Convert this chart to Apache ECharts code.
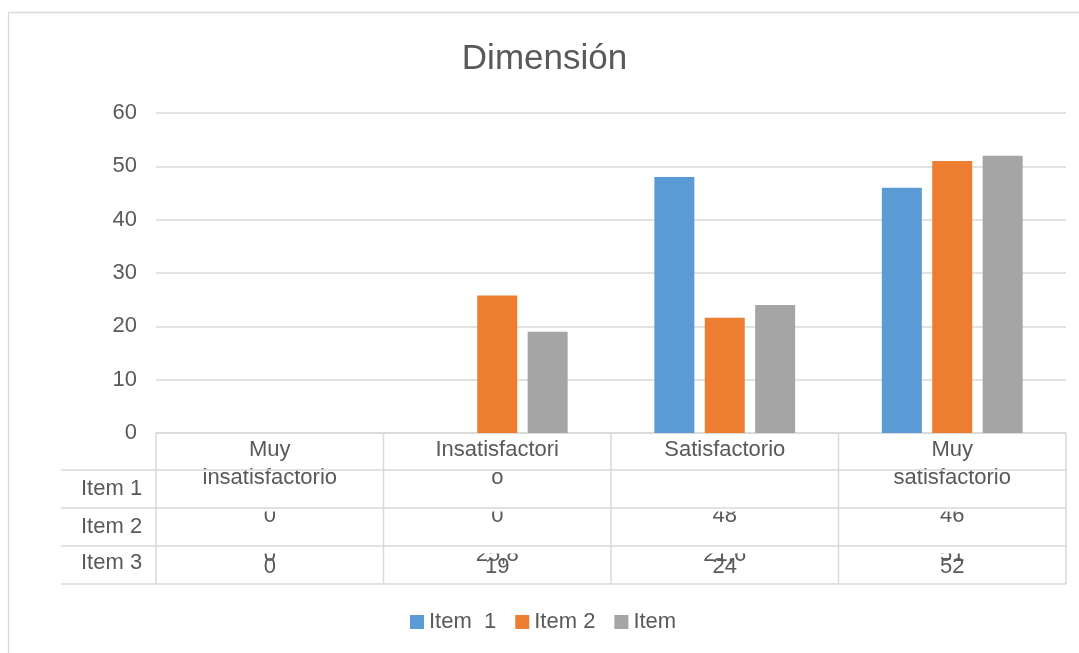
<!DOCTYPE html>
<html>
<head>
<meta charset="utf-8">
<title>Dimensión</title>
<script src="https://cdn.jsdelivr.net/npm/echarts@6/dist/echarts.min.js"></script>
<style>
  html, body { margin: 0; padding: 0; background: #ffffff; }
  #chart { width: 1079px; height: 653px; }
</style>
</head>
<body>
<div id="chart"></div>
<script>
// Chart data
const titleText = "Dimensión";
const categories = ["Muy insatisfactorio", "Insatisfactorio", "Satisfactorio", "Muy satisfactorio"];
const categoryLabels = ["Muy\ninsatisfactorio", "Insatisfactori\no", "Satisfactorio", "Muy\nsatisfactorio"];
const seriesNames = ["Item  1", "Item 2", "Item"];
const rowLabels = ["Item 1", "Item 2", "Item 3"];
const item1 = [0, 0, 48, 46];
const item2 = [0, 25.8, 21.6, 51];
const item3 = [0, 19, 24, 52];
const yMin = 0, yMax = 60, yInterval = 10;

const seriesValues = [item1, item2, item3];
const colors = ["#5B9BD5", "#ED7D31", "#A5A5A5"];
const textColor = "#595959";
const lineColor = "#D9D9D9";
const fontFamily = '"Liberation Sans", Arial, sans-serif';

const chart = echarts.init(document.getElementById("chart"), null, { renderer: "canvas" });

chart.setOption({
  animation: false,
  backgroundColor: "#ffffff",
  textStyle: { fontFamily: fontFamily },
  grid: { left: 156, right: 13, top: 113, bottom: 220, containLabel: false },
  legend: {
    left: 410,
    top: 611,
    padding: 0,
    itemWidth: 14,
    itemHeight: 14,
    itemGap: 19,
    icon: "rect",
    textStyle: { color: textColor, fontSize: 22, fontFamily: fontFamily },
    data: seriesNames
  },
  xAxis: {
    type: "category",
    data: categories,
    axisLine: { show: true, lineStyle: { color: lineColor, width: 1.5 } },
    axisTick: { show: false },
    axisLabel: {
      color: textColor,
      fontSize: 22,
      lineHeight: 28,
      margin: 3,
      interval: 0,
      formatter: function (value, idx) { return categoryLabels[idx]; }
    },
    splitLine: { show: false }
  },
  yAxis: {
    type: "value",
    min: yMin,
    max: yMax,
    interval: yInterval,
    axisLine: { show: false },
    axisTick: { show: false },
    axisLabel: { color: textColor, fontSize: 22, margin: 19 },
    splitLine: { lineStyle: { color: lineColor, width: 1.5 } }
  },
  series: seriesValues.map(function (vals, i) {
    return {
      name: seriesNames[i],
      type: "bar",
      data: vals,
      barWidth: 40,
      barGap: "26%",
      itemStyle: { color: colors[i] },
      z: 2
    };
  })
});

// Data table under the plot, laid out from the axis scales
function fmt(v) { return String(v).replace(".", ","); }

function buildTable() {
  const centers = categories.map(function (c) { return chart.convertToPixel({ xAxisIndex: 0 }, c); });
  const band = centers[1] - centers[0];
  const bounds = [centers[0] - band / 2].concat(centers.map(function (c) { return c + band / 2; }));
  const y0 = chart.convertToPixel({ yAxisIndex: 0 }, 0);
  const headerH = 37, rowH = 38;
  const rowTops = [y0 + headerH, y0 + headerH + rowH, y0 + headerH + 2 * rowH, y0 + headerH + 3 * rowH];
  const tableBottom = rowTops[3];
  const rowLeft = 61;
  const right = bounds[bounds.length - 1];
  const font = '22px ' + fontFamily;
  const els = [];

  // outer chart frame
  els.push({ type: "rect", shape: { x: 8.5, y: 12.5, width: 1200, height: 800 },
    style: { fill: null, stroke: lineColor, lineWidth: 1.3 }, z: 1, silent: true });

  // title
  els.push({ type: "text", x: 544.5, y: 59,
    style: { text: titleText, font: '35px ' + fontFamily, fill: textColor,
      textAlign: "center", textVerticalAlign: "middle", align: "center", verticalAlign: "middle" }, z: 10 });

  // table grid lines
  bounds.forEach(function (bx) {
    els.push({ type: "line", shape: { x1: bx, y1: y0, x2: bx, y2: tableBottom },
      style: { stroke: lineColor, lineWidth: 1.5 }, z: 100, silent: true });
  });
  rowTops.forEach(function (ry) {
    els.push({ type: "line", shape: { x1: rowLeft, y1: ry, x2: right, y2: ry },
      style: { stroke: lineColor, lineWidth: 1.5 }, z: 100, silent: true });
  });

  // row labels
  rowLabels.forEach(function (lbl, r) {
    els.push({ type: "text", x: 81, y: rowTops[r] + (r === 2 ? 17 : 19),
      style: { text: lbl, font: font, fill: textColor,
        textAlign: "left", textVerticalAlign: "middle", align: "left", verticalAlign: "middle" }, z: 60 });
  });

  // cell values: first two rows sit low in their cells and are cut at the top
  const valueY = [y0 + 83, y0 + 122, y0 + 134];
  const cutTop = [y0 + 78.5, y0 + 120.5, null];
  seriesValues.forEach(function (vals, r) {
    vals.forEach(function (v, c) {
      els.push({ type: "text", x: centers[c], y: valueY[r],
        style: { text: fmt(v), font: font, fill: textColor,
          textAlign: "center", textVerticalAlign: "middle", align: "center", verticalAlign: "middle" }, z: 40 });
      if (cutTop[r] !== null) {
        els.push({ type: "rect", shape: { x: centers[c] - 45, y: cutTop[r] - 14, width: 90, height: 14 },
          style: { fill: "#ffffff" }, z: 50, silent: true });
      }
    });
  });

  chart.setOption({ graphic: { elements: els } });
}

buildTable();
</script>
</body>
</html>
